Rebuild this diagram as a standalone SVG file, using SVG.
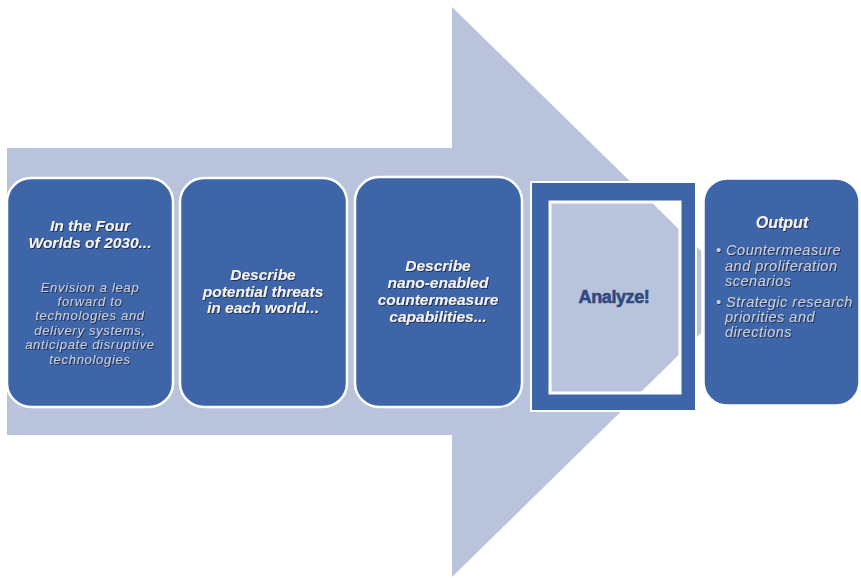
<svg xmlns="http://www.w3.org/2000/svg" width="861" height="578" viewBox="0 0 861 578">
<defs>
<filter id="sh" x="-10%" y="-30%" width="120%" height="160%">
<feDropShadow dx="1" dy="1" stdDeviation="0.6" flood-color="#1b2b4d" flood-opacity="0.9"/>
</filter>
<style>
.box{fill:#3D65A8;stroke:#ffffff;stroke-width:2.5}
.h{font-family:"Liberation Sans",Arial,sans-serif;font-weight:bold;font-style:italic;font-size:15.5px;fill:#F4F4F4;text-anchor:middle;filter:url(#sh)}
.b{font-family:"Liberation Sans",Arial,sans-serif;font-style:italic;font-size:13px;fill:#C9CED8;letter-spacing:0.7px;filter:url(#sh)}
.o{font-size:14.5px;letter-spacing:0.5px}
.c{text-anchor:middle}
.an{font-family:"Liberation Sans",Arial,sans-serif;font-weight:bold;font-size:18px;fill:#2E4A80;text-anchor:middle;letter-spacing:-0.4px;stroke:#2E4A80;stroke-width:0.6}
</style>
</defs>
<rect width="861" height="578" fill="#ffffff"/>
<g id="arrow">
<path d="M7 148 H452 V7 L743 292 L452 577 V435 H7 Z" fill="#B9C4DC"/>
</g>
<g id="connectors"></g>
<g id="node1">
<rect class="box" x="7" y="178" width="166" height="229" rx="24"/>
<text class="h" x="90" y="231">In the Four</text>
<text class="h" x="90" y="248">Worlds of 2030...</text>
<text class="b c" x="90" y="292">Envision a leap</text>
<text class="b c" x="90" y="306">forward to</text>
<text class="b c" x="90" y="320">technologies and</text>
<text class="b c" x="90" y="335">delivery systems,</text>
<text class="b c" x="90" y="349">anticipate disruptive</text>
<text class="b c" x="90" y="364">technologies</text>
</g>
<g id="node2">
<rect class="box" x="180" y="178" width="167" height="229" rx="24"/>
<text class="h" x="263" y="280">Describe</text>
<text class="h" x="263" y="297">potential threats</text>
<text class="h" x="263" y="313">in each world...</text>
</g>
<g id="node3">
<rect class="box" x="355" y="177" width="167" height="230" rx="24"/>
<text class="h" x="438" y="271">Describe</text>
<text class="h" x="438" y="288">nano-enabled</text>
<text class="h" x="438" y="305">countermeasure</text>
<text class="h" x="438" y="322">capabilities...</text>
</g>
<g id="node4">
<rect x="532" y="183" width="163" height="227" fill="none" stroke="#ffffff" stroke-width="4"/>
<path d="M532 183 H695 V410 H532 Z M549 201 V393 H680 V201 Z" fill="#3D65A8" fill-rule="evenodd"/>
<rect x="550" y="202" width="130" height="191" fill="none" stroke="#ffffff" stroke-width="3"/>
<text class="an" x="614" y="303">Analyze!</text>
</g>
<g id="node5">
<rect class="box" x="703" y="178" width="157" height="228" rx="24" style="stroke-width:3.5"/>
<text class="h" x="782" y="228" style="font-size:16px">Output</text>
<text class="b o" x="716" y="255">• Countermeasure</text>
<text class="b o" x="725" y="271">and proliferation</text>
<text class="b o" x="725" y="286">scenarios</text>
<text class="b o" x="716" y="307">• Strategic research</text>
<text class="b o" x="725" y="322">priorities and</text>
<text class="b o" x="725" y="337">directions</text>
</g>
</svg>
